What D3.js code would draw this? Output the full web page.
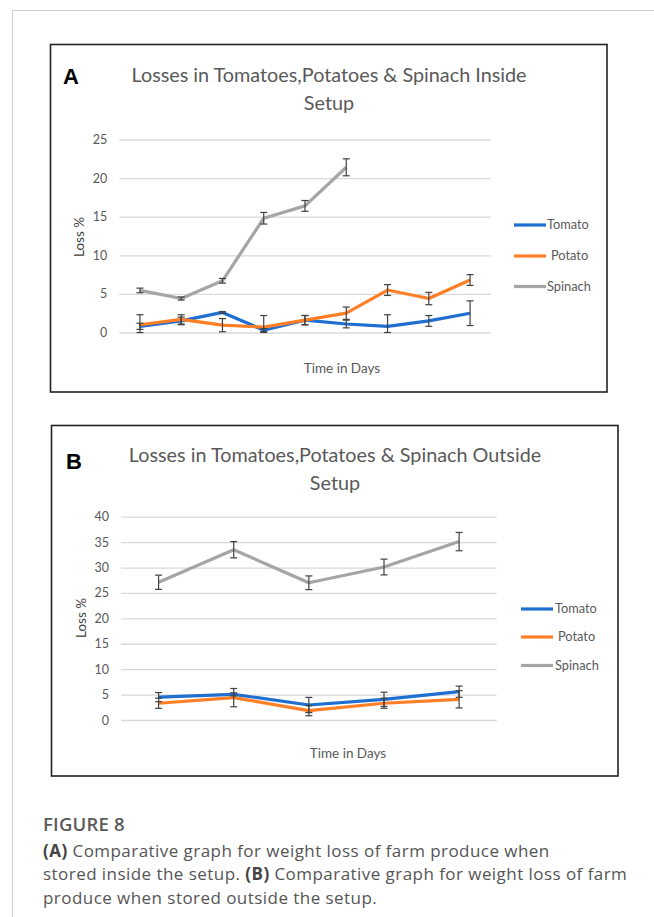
<!DOCTYPE html>
<html>
<head>
<meta charset="utf-8">
<script src="https://cdn.jsdelivr.net/npm/d3@7/dist/d3.min.js"></script>
<style>
  html, body { margin: 0; padding: 0; background: #fff; }
  svg { display: block; }
</style>
</head>
<body>
<svg id="fig" width="654" height="917"></svg>
<script>
// ---------------- DATA ----------------
const seriesNames = ["Tomato", "Potato", "Spinach"];
const seriesColors = ["#1f6fd0", "#ff7f27", "#a5a5a5"];

// Panel A (inside setup) – 9 observation days
const daysA = ["1", "2", "3", "4", "5", "6", "7", "8", "9"];
const tomatoA = [0.8, 1.5, 2.6, 0.3, 1.6, 1.1, 0.8, 1.5, 2.5];
const potatoA = [1.0, 1.7, 0.95, 0.7, 1.6, 2.5, 5.5, 4.4, 6.8];
const spinachA = [5.45, 4.4, 6.7, 14.8, 16.4, 21.4];
const tomatoErrA = [0.4, 0.5, 0.1, 0.2, 0.6, 0.5, 1.5, 0.7, 1.6];
const potatoErrA = [1.3, 0.6, 0.85, 1.5, 0.6, 0.8, 0.7, 0.8, 0.7];
const spinachErrA = [0.3, 0.2, 0.3, 0.75, 0.7, 1.1];
const yTicksA = [0, 5, 10, 15, 20, 25];

// Panel B (outside setup) – 5 observation days
const daysB = ["1", "2", "3", "4", "5"];
const tomatoB = [4.5, 5.05, 2.95, 4.07, 5.57];
const potatoB = [3.3, 4.4, 1.84, 3.3, 4.07];
const spinachB = [27.1, 33.5, 27.0, 30.1, 35.1];
const tomatoErrB = [0.9, 0.3, 1.5, 1.4, 1.1];
const potatoErrB = [1.0, 1.8, 1.0, 1.0, 1.7];
const spinachErrB = [1.4, 1.6, 1.35, 1.55, 1.8];
const yTicksB = [0, 5, 10, 15, 20, 25, 30, 35, 40];

const titleA = ["Losses in Tomatoes,Potatoes & Spinach Inside", "Setup"];
const titleB = ["Losses in Tomatoes,Potatoes & Spinach Outside", "Setup"];
const xTitle = "Time in Days";
const yTitle = "Loss %";

const captionHead = "FIGURE 8";
const captionLines = [
  [["(A)", true], [" Comparative graph for weight loss of farm produce when", false]],
  [["stored inside the setup. ", false], ["(B)", true], [" Comparative graph for weight loss of farm", false]],
  [["produce when stored outside the setup.", false]]
];

// ---------------- DRAW ----------------
const svg = d3.select("#fig");
const chartFont = "Lato, 'Open Sans', sans-serif";

// page frame (light gray top + left rules)
svg.append("line").attr("x1", 12.5).attr("x2", 654).attr("y1", 10.5).attr("y2", 10.5)
  .attr("stroke", "#cfcfcf").attr("stroke-width", 1);
svg.append("line").attr("x1", 12.5).attr("x2", 12.5).attr("y1", 10.5).attr("y2", 917)
  .attr("stroke", "#cfcfcf").attr("stroke-width", 1);

function drawPanel(cfg) {
  const g = svg.append("g");
  // frame
  g.append("rect").attr("x", cfg.box[0]).attr("y", cfg.box[1])
    .attr("width", cfg.box[2] - cfg.box[0]).attr("height", cfg.box[3] - cfg.box[1])
    .attr("fill", "#fff").attr("stroke", "#222").attr("stroke-width", 1.6);

  const x = d3.scalePoint().domain(cfg.days).range(cfg.xr).padding(0.5);
  const y = d3.scaleLinear().domain([0, d3.max(cfg.ticks)]).range(cfg.yr).clamp(true);

  // gridlines + tick labels via axis
  const axis = d3.axisLeft(y).tickValues(cfg.ticks).tickSize(-(cfg.xr[1] - cfg.xr[0])).tickPadding(12);
  const ag = g.append("g").attr("transform", `translate(${cfg.xr[0]},0)`).call(axis);
  ag.select(".domain").remove();
  ag.selectAll(".tick line").attr("stroke", "#d9d9d9").attr("stroke-width", 1.3);
  ag.selectAll(".tick text").attr("fill", "#595959").attr("font-family", chartFont)
    .attr("font-size", 12.5);

  // lines
  const line = d3.line().x((d, i) => x(cfg.days[i])).y(d => y(d));
  cfg.series.forEach((s, k) => {
    g.append("path").datum(s.values).attr("d", line)
      .attr("fill", "none").attr("stroke", seriesColors[k]).attr("stroke-width", 3.2)
      .attr("stroke-linejoin", "round").attr("stroke-linecap", "butt");
  });
  // error bars
  cfg.series.forEach((s) => {
    s.values.forEach((v, i) => {
      const cx = x(cfg.days[i]);
      const y1 = y(v + s.err[i]), y0 = y(v - s.err[i]);
      const eg = g.append("g").attr("stroke", "#404040").attr("stroke-width", 1.2);
      eg.append("line").attr("x1", cx).attr("x2", cx).attr("y1", y0).attr("y2", y1);
      eg.append("line").attr("x1", cx - 3.5).attr("x2", cx + 3.5).attr("y1", y0).attr("y2", y0);
      eg.append("line").attr("x1", cx - 3.5).attr("x2", cx + 3.5).attr("y1", y1).attr("y2", y1);
    });
  });

  // panel letter
  g.append("text").attr("x", cfg.letterPos[0]).attr("y", cfg.letterPos[1]).attr("dy", "0.35em")
    .attr("font-family", "'Liberation Sans', Arial, sans-serif").attr("font-weight", "bold")
    .attr("font-size", 22).attr("fill", "#000").text(cfg.letter);

  // title
  cfg.title.forEach((t, i) => {
    g.append("text").attr("x", cfg.titlePos[0]).attr("y", cfg.titlePos[1] + i * cfg.titleGap)
      .attr("dy", "0.35em").attr("text-anchor", "middle")
      .attr("font-family", chartFont).attr("font-size", 19.8).attr("fill", "#595959").text(t);
  });

  // axis titles
  g.append("text").attr("transform", `translate(${cfg.yTitlePos[0]},${cfg.yTitlePos[1]}) rotate(-90)`)
    .attr("dy", "0.35em").attr("text-anchor", "middle")
    .attr("font-family", chartFont).attr("font-size", 13.5).attr("fill", "#404040").text(yTitle);
  g.append("text").attr("x", cfg.xTitlePos[0]).attr("y", cfg.xTitlePos[1])
    .attr("dy", "0.35em").attr("text-anchor", "middle")
    .attr("font-family", chartFont).attr("font-size", 13.5).attr("fill", "#595959").text(xTitle);

  // legend
  seriesNames.forEach((n, k) => {
    const ly = cfg.legendY[k];
    g.append("line").attr("x1", cfg.legendX[0]).attr("x2", cfg.legendX[1])
      .attr("y1", ly).attr("y2", ly).attr("stroke", seriesColors[k]).attr("stroke-width", 3.2);
    g.append("text").attr("x", cfg.legendTextX[k]).attr("y", ly).attr("dy", "0.35em")
      .attr("font-family", chartFont).attr("font-size", 12.8).attr("fill", "#595959").text(n);
  });
}

drawPanel({
  box: [50.5, 44.5, 607, 392],
  days: daysA, ticks: yTicksA,
  xr: [119.3, 490.7], yr: [332.5, 139.5],
  series: [
    { values: tomatoA, err: tomatoErrA },
    { values: potatoA, err: potatoErrA },
    { values: spinachA, err: spinachErrA }
  ],
  letter: "A", letterPos: [63, 76],
  title: titleA, titlePos: [329, 75], titleGap: 28,
  yTitlePos: [79, 237], xTitlePos: [342, 368],
  legendY: [225, 256, 286.5], legendX: [514, 546], legendTextX: [547, 551, 547]
});

drawPanel({
  box: [51.5, 425.5, 618, 776],
  days: daysB, ticks: yTicksB,
  xr: [121, 496.7], yr: [720, 516.7],
  series: [
    { values: tomatoB, err: tomatoErrB },
    { values: potatoB, err: potatoErrB },
    { values: spinachB, err: spinachErrB }
  ],
  letter: "B", letterPos: [66, 461],
  title: titleB, titlePos: [335, 455], titleGap: 28,
  yTitlePos: [81, 618], xTitlePos: [348, 753],
  legendY: [609, 637, 665.5], legendX: [521, 553], legendTextX: [555, 558, 555]
});

// caption
const capFont = "'Open Sans', 'Noto Sans', sans-serif";
svg.append("text").attr("x", 43).attr("y", 825).attr("dy", "0.35em")
  .attr("font-family", capFont).attr("font-size", 18.5).attr("font-weight", 600)
  .attr("letter-spacing", 0.2).attr("fill", "#5a5a5a").text(captionHead);
captionLines.forEach((parts, i) => {
  const t = svg.append("text").attr("x", 43).attr("y", 851 + i * 23.5).attr("dy", "0.35em")
    .attr("font-family", capFont).attr("font-size", 17).attr("letter-spacing", 0.45)
    .attr("fill", "#555");
  parts.forEach(p => {
    t.append("tspan").attr("font-weight", p[1] ? 700 : 400)
      .attr("fill", p[1] ? "#444" : "#555").text(p[0]);
  });
});
</script>
</body>
</html>
